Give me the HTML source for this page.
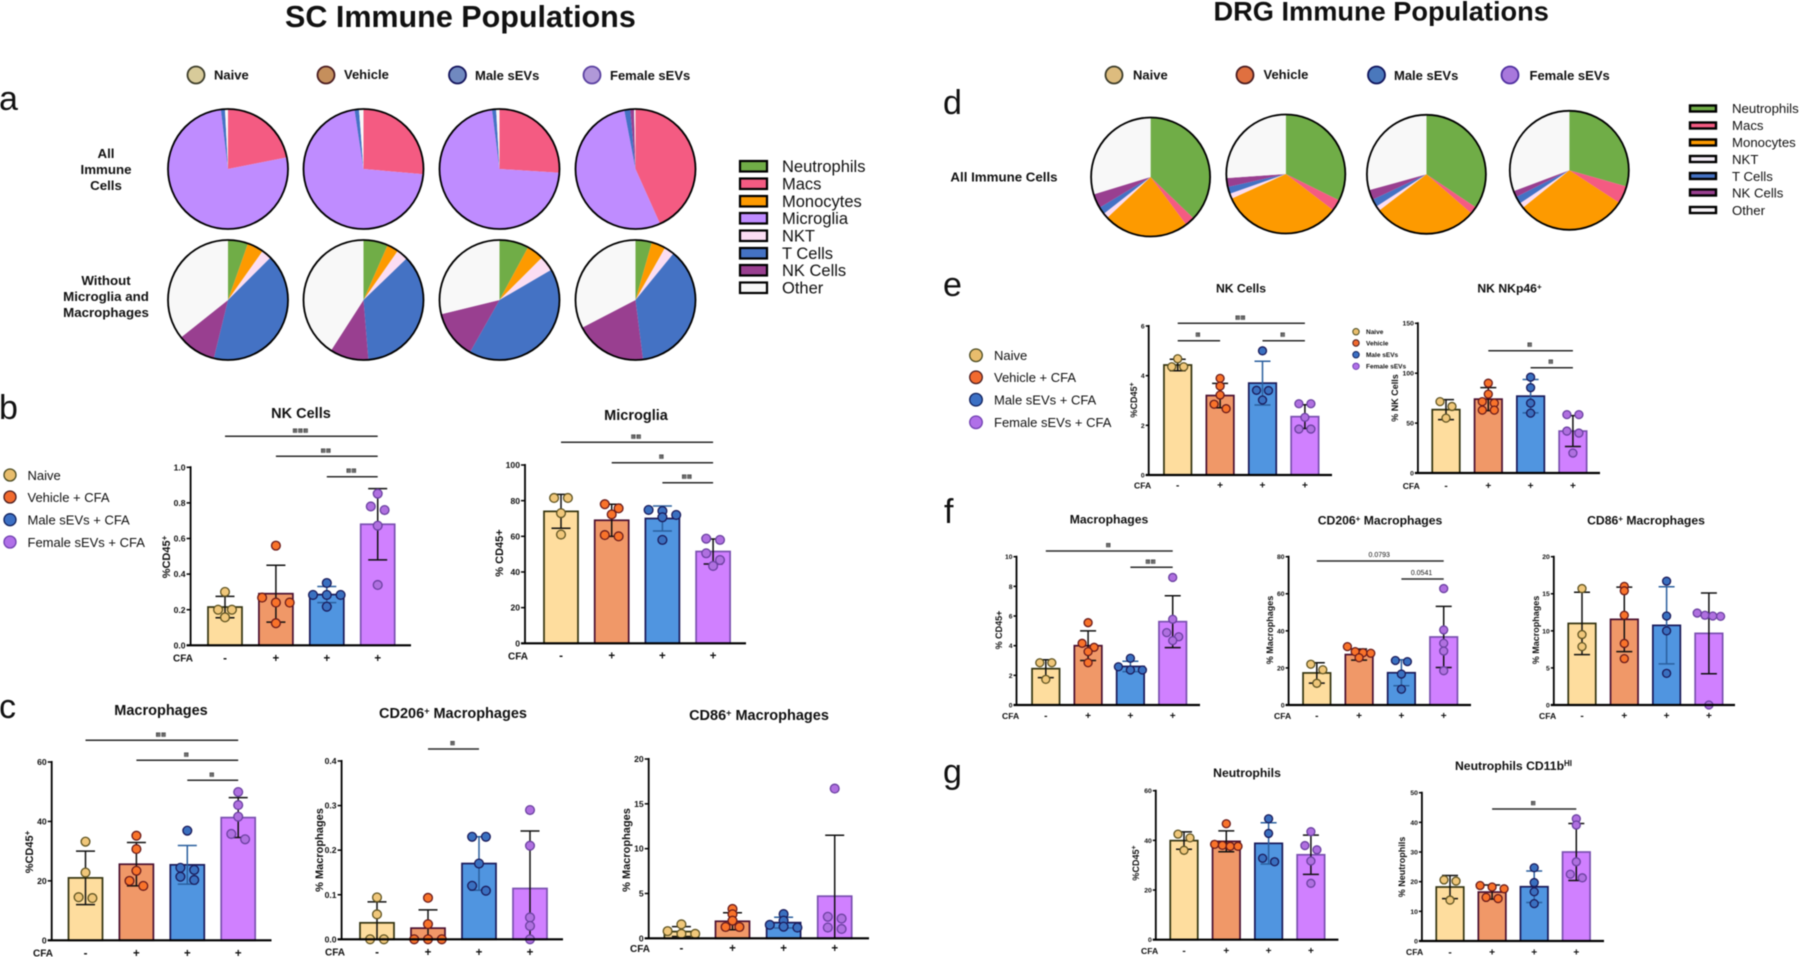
<!DOCTYPE html>
<html lang="en">
<head>
<meta charset="utf-8">
<title>SC and DRG Immune Populations</title>
<style>
html,body{margin:0;padding:0;background:#fff;}
#figure{display:block;width:1800px;height:957px;filter:blur(0.55px);}
text{font-family:"Liberation Sans","DejaVu Sans",sans-serif;fill:#111;}
.b{font-weight:bold;}
.main{font-weight:bold;}
.hdr{font-weight:bold;font-size:13px;}
.letter{font-size:34px;}
.row{font-weight:bold;font-size:13.3px;text-anchor:middle;}
.cl{font-size:16.5px;}
.dl{font-size:13.2px;}
.ll{font-size:13px;}
.tsc{font-weight:bold;font-size:14.5px;text-anchor:middle;}
.tdrg{font-weight:bold;font-size:12.2px;text-anchor:middle;}
.ysc{font-weight:bold;font-size:11px;text-anchor:middle;}
.ydrg{font-weight:bold;font-size:9px;text-anchor:middle;}
</style>
</head>
<body>
<svg id="figure" xmlns="http://www.w3.org/2000/svg" width="1800" height="957" viewBox="0 0 1800 957">
<rect width="1800" height="957" fill="#fff"/>

<text class="main" x="285" y="27" font-size="30.5">SC Immune Populations</text>
<text class="main" x="1213.5" y="20.5" font-size="27.2">DRG Immune Populations</text>

<text class="letter" x="-1" y="110">a</text>
<text class="letter" x="-1" y="419">b</text>
<text class="letter" x="-1" y="718">c</text>
<text class="letter" x="943" y="114">d</text>
<text class="letter" x="943" y="296">e</text>
<text class="letter" x="944" y="523">f</text>
<text class="letter" x="943" y="783">g</text>

<g>
<circle cx="196" cy="75" r="8.5" fill="#d8cb9a" stroke="#3d3d2a" stroke-width="1.8"/>
<text class="hdr" x="214" y="79.5">Naive</text>
<circle cx="326" cy="75" r="8.5" fill="#c58f5c" stroke="#4a1c20" stroke-width="1.8"/>
<text class="hdr" x="344" y="79">Vehicle</text>
<circle cx="457.5" cy="75" r="8.5" fill="#7089c0" stroke="#14145c" stroke-width="1.8"/>
<text class="hdr" x="475" y="80">Male sEVs</text>
<circle cx="592" cy="75" r="8.5" fill="#b098d8" stroke="#5a40a0" stroke-width="1.8"/>
<text class="hdr" x="610" y="80">Female sEVs</text>
</g>

<g>
<circle cx="1114" cy="75" r="8.5" fill="#ddbc7e" stroke="#3d3d2a" stroke-width="1.8"/>
<text class="hdr" x="1133" y="79.5">Naive</text>
<circle cx="1245" cy="75" r="8.5" fill="#e07040" stroke="#4a1c20" stroke-width="1.8"/>
<text class="hdr" x="1263.5" y="79">Vehicle</text>
<circle cx="1376.5" cy="75" r="8.5" fill="#4a78bc" stroke="#10145c" stroke-width="1.8"/>
<text class="hdr" x="1394" y="80">Male sEVs</text>
<circle cx="1510" cy="75" r="8.5" fill="#a878dc" stroke="#5030a0" stroke-width="1.8"/>
<text class="hdr" x="1529.5" y="80">Female sEVs</text>
</g>

<g>
<text class="row" x="106" y="158">All</text>
<text class="row" x="106" y="174">Immune</text>
<text class="row" x="106" y="190">Cells</text>
<text class="row" x="106" y="285">Without</text>
<text class="row" x="106" y="301">Microglia and</text>
<text class="row" x="106" y="317">Macrophages</text>
</g>
<text class="row" x="1004" y="181.5">All Immune Cells</text>

<g id="sc-pies"></g>
<g id="drg-pies"></g>

<g stroke-linejoin="miter">
<rect x="740" y="161" width="27" height="10.5" fill="#70ad47" stroke="#000" stroke-width="2.2"/>
<text class="cl" x="782" y="172">Neutrophils</text>
<rect x="740" y="178.5" width="27" height="10.5" fill="#f45b82" stroke="#000" stroke-width="2.2"/>
<text class="cl" x="782" y="189.5">Macs</text>
<rect x="740" y="196" width="27" height="10.5" fill="#fd9a00" stroke="#000" stroke-width="2.2"/>
<text class="cl" x="782" y="207">Monocytes</text>
<rect x="740" y="213" width="27" height="10.5" fill="#bf8cff" stroke="#000" stroke-width="2.2"/>
<text class="cl" x="782" y="224">Microglia</text>
<rect x="740" y="230.5" width="27" height="10.5" fill="#fbddf3" stroke="#000" stroke-width="2.2"/>
<text class="cl" x="782" y="241.5">NKT</text>
<rect x="740" y="248" width="27" height="10.5" fill="#4472c4" stroke="#000" stroke-width="2.2"/>
<text class="cl" x="782" y="259">T Cells</text>
<rect x="740" y="265" width="27" height="10.5" fill="#993f90" stroke="#000" stroke-width="2.2"/>
<text class="cl" x="782" y="276">NK Cells</text>
<rect x="740" y="282.5" width="27" height="10.5" fill="#f8f8f8" stroke="#000" stroke-width="2.2"/>
<text class="cl" x="782" y="293.5">Other</text>
</g>

<g>
<rect x="1690" y="105.5" width="26" height="6" fill="#70ad47" stroke="#000" stroke-width="2.4"/>
<text class="dl" x="1732" y="113">Neutrophils</text>
<rect x="1690" y="122.5" width="26" height="6" fill="#f45b82" stroke="#000" stroke-width="2.4"/>
<text class="dl" x="1732" y="130">Macs</text>
<rect x="1690" y="139.5" width="26" height="6" fill="#fd9a00" stroke="#000" stroke-width="2.4"/>
<text class="dl" x="1732" y="147">Monocytes</text>
<rect x="1690" y="156" width="26" height="6" fill="#f5eef8" stroke="#000" stroke-width="2.4"/>
<text class="dl" x="1732" y="164">NKT</text>
<rect x="1690" y="173" width="26" height="6" fill="#4472c4" stroke="#000" stroke-width="2.4"/>
<text class="dl" x="1732" y="181">T Cells</text>
<rect x="1690" y="189.5" width="26" height="6" fill="#993f90" stroke="#000" stroke-width="2.4"/>
<text class="dl" x="1732" y="197.5">NK Cells</text>
<rect x="1690" y="207" width="26" height="6" fill="#f9f5f9" stroke="#000" stroke-width="2.4"/>
<text class="dl" x="1732" y="215">Other</text>
</g>

<g>
<circle cx="10" cy="475" r="6" fill="#e8bd6d" stroke="#4a4a20" stroke-width="1.3"/>
<text class="ll" x="27.5" y="480">Naive</text>
<circle cx="10" cy="497" r="6" fill="#f26a2e" stroke="#4a1c20" stroke-width="1.3"/>
<text class="ll" x="27.5" y="502">Vehicle + CFA</text>
<circle cx="10" cy="519.7" r="6" fill="#3c70c4" stroke="#10205c" stroke-width="1.3"/>
<text class="ll" x="27.5" y="524.5">Male sEVs + CFA</text>
<circle cx="10" cy="542" r="6" fill="#b070e8" stroke="#7040b0" stroke-width="1.3"/>
<text class="ll" x="27.5" y="547">Female sEVs + CFA</text>
</g>

<g>
<circle cx="976" cy="355.3" r="6.3" fill="#e8bd6d" stroke="#4a4a20" stroke-width="1.3"/>
<text class="ll" x="994" y="360">Naive</text>
<circle cx="976" cy="377.3" r="6.3" fill="#f26a2e" stroke="#4a1c20" stroke-width="1.3"/>
<text class="ll" x="994" y="382">Vehicle + CFA</text>
<circle cx="976" cy="399.7" r="6.3" fill="#3c70c4" stroke="#10205c" stroke-width="1.3"/>
<text class="ll" x="994" y="404.5">Male sEVs + CFA</text>
<circle cx="976" cy="422.3" r="6.3" fill="#b070e8" stroke="#7040b0" stroke-width="1.3"/>
<text class="ll" x="994" y="427">Female sEVs + CFA</text>
</g>

<g>
<circle cx="1356" cy="331.7" r="3.2" fill="#e8bd6d" stroke="#4a4a20"/>
<text x="1366" y="334" font-size="6.5" class="b">Naive</text>
<circle cx="1356" cy="343" r="3.2" fill="#f26a2e" stroke="#4a1c20"/>
<text x="1366" y="345.3" font-size="6.5" class="b">Vehicle</text>
<circle cx="1356" cy="354.7" r="3.2" fill="#3c70c4" stroke="#10205c"/>
<text x="1366" y="357" font-size="6.5" class="b">Male sEVs</text>
<circle cx="1356" cy="366.3" r="3.2" fill="#b070e8" stroke="#7040b0"/>
<text x="1366" y="368.6" font-size="6.5" class="b">Female sEVs</text>
</g>

<g id="sc-nk">
<text class="tsc" x="301" y="418">NK Cells</text>
<text class="ysc" transform="rotate(-90 170 557)" x="170" y="557">%CD45<tspan dy="-3" font-size="8">+</tspan></text>
</g>
<g id="sc-microglia">
<text class="tsc" x="636" y="420">Microglia</text>
<text class="ysc" transform="rotate(-90 503 553)" x="503" y="553">% CD45+</text>
</g>
<g id="sc-macs">
<text class="tsc" x="161" y="715">Macrophages</text>
<text class="ysc" transform="rotate(-90 33 852)" x="33" y="852">%CD45<tspan dy="-3" font-size="8">+</tspan></text>
</g>
<g id="sc-cd206">
<text class="tsc" x="453" y="718">CD206<tspan dy="-4" font-size="9">+</tspan><tspan dy="4"> Macrophages</tspan></text>
<text class="ysc" transform="rotate(-90 323 850)" x="323" y="850">% Macrophages</text>
</g>
<g id="sc-cd86">
<text class="tsc" x="759" y="720">CD86<tspan dy="-4" font-size="9">+</tspan><tspan dy="4"> Macrophages</tspan></text>
<text class="ysc" transform="rotate(-90 630 850)" x="630" y="850">% Macrophages</text>
</g>

<g id="drg-nk">
<text class="tdrg" x="1241" y="292.5">NK Cells</text>
<text class="ydrg" transform="rotate(-90 1137 400)" x="1137" y="400">%CD45<tspan dy="-3" font-size="7">+</tspan></text>
</g>
<g id="drg-nkp46">
<text class="tdrg" x="1509.5" y="292.5">NK NKp46<tspan dy="-3" font-size="8">+</tspan></text>
<text class="ydrg" transform="rotate(-90 1398 398)" x="1398" y="398">% NK Cells</text>
</g>
<g id="drg-macs">
<text class="tdrg" x="1109" y="523.5">Macrophages</text>
<text class="ydrg" transform="rotate(-90 1002 630)" x="1002" y="630">% CD45+</text>
</g>
<g id="drg-cd206">
<text class="tdrg" x="1380" y="524.5">CD206<tspan dy="-3" font-size="8">+</tspan><tspan dy="3"> Macrophages</tspan></text>
<text class="ydrg" transform="rotate(-90 1273 630)" x="1273" y="630">% Macrophages</text>
</g>
<g id="drg-cd86">
<text class="tdrg" x="1646" y="524.5">CD86<tspan dy="-3" font-size="8">+</tspan><tspan dy="3"> Macrophages</tspan></text>
<text class="ydrg" transform="rotate(-90 1539 630)" x="1539" y="630">% Macrophages</text>
</g>
<g id="drg-neut">
<text class="tdrg" x="1247" y="777">Neutrophils</text>
<text class="ydrg" transform="rotate(-90 1139 863)" x="1139" y="863">%CD45<tspan dy="-3" font-size="7">+</tspan></text>
</g>
<g id="drg-cd11b">
<text class="tdrg" x="1513.5" y="770">Neutrophils CD11b<tspan dy="-4" font-size="8">HI</tspan></text>
<text class="ydrg" transform="rotate(-90 1405 867)" x="1405" y="867">% Neutrophils</text>
</g>
</svg>

<script>
// ---------- shared categories ----------
const groupNames = ['naive', 'vehicle', 'male-sevs', 'female-sevs'];
const cfaLabels = ['-', '+', '+', '+'];
const cellTypes = ['neutrophils', 'macs', 'monocytes', 'microglia', 'nkt', 't-cells', 'nk-cells', 'other'];

// ---------- pie values, % of cells, in cellTypes order ----------
const scAllNaive = [0, 21.9, 0, 76.2, 0, 1.1, 0, 0.8];
const scAllVehicle = [0, 26.4, 0, 71.2, 0, 1.2, 0, 1.2];
const scAllMale = [0, 26, 0, 72, 0, 1.1, 0, 0.9];
const scAllFemale = [0, 43.3, 0, 53.7, 0, 1.6, 1, 0.4];
const scWithoutNaive = [5.4, 0, 4.4, 0, 2.7, 41.3, 10.5, 35.7];
const scWithoutVehicle = [6.6, 0, 3.1, 0, 3.1, 35.9, 10.4, 40.9];
const scWithoutMale = [7.9, 0, 4.6, 0, 4.1, 41.6, 13, 28.8];
const scWithoutFemale = [4.4, 0, 3.8, 0, 2.7, 37.1, 19.4, 32.6];
const drgAllNaive = [37.2, 2.6, 23.2, 0, 1.4, 2, 3.9, 29.7];
const drgAllVehicle = [32.3, 3.1, 32.8, 0, 1.4, 1.9, 2.4, 26.1];
const drgAllMale = [34.4, 2, 28.2, 0, 1.3, 2.1, 2.7, 29.3];
const drgAllFemale = [29.4, 4.8, 30, 0, 1.4, 2, 1.7, 30.7];

// ---------- b: SC NK cells ----------
const scNkTicks = [0, 0.2, 0.4, 0.6, 0.8, 1];
const scNkTickLabels = ['0.0', '0.2', '0.4', '0.6', '0.8', '1.0'];
const scNkMeans = [0.215, 0.29, 0.285, 0.68];
const scNkSds = [0.06, 0.16, 0.045, 0.2];
const scNkPoints = [[0.3, 0.2, 0.2, 0.157], [0.56, 0.268, 0.24, 0.24, 0.124], [0.35, 0.283, 0.283, 0.283, 0.217], [0.852, 0.78, 0.76, 0.672, 0.339]];

// ---------- b: SC microglia ----------
const scMicrogliaTicks = [0, 20, 40, 60, 80, 100];
const scMicrogliaTickLabels = ['0', '20', '40', '60', '80', '100'];
const scMicrogliaMeans = [74, 69, 70, 51.5];
const scMicrogliaSds = [9.5, 9, 7, 7];
const scMicrogliaPoints = [[81.5, 81.5, 73, 61], [78, 75.7, 72.3, 60.7, 60], [74.8, 74.2, 72, 70.7, 58], [58.7, 58, 50.5, 46.7, 43.4]];

// ---------- c: SC macrophages ----------
const scMacsTicks = [0, 20, 40, 60];
const scMacsTickLabels = ['0', '20', '40', '60'];
const scMacsMeans = [21, 25.6, 25.4, 41.3];
const scMacsSds = [9, 7.3, 6.5, 6.7];
const scMacsPoints = [[33.2, 22.8, 14.5, 14.2], [35.2, 30.7, 23.4, 20, 18.3], [36.9, 24.4, 23.7, 21.4, 20.3], [49.9, 45.5, 41.6, 35.8, 34]];

// ---------- c: SC CD206 macrophages ----------
const scCd206Ticks = [0, 0.1, 0.2, 0.3, 0.4];
const scCd206TickLabels = ['0.0', '0.1', '0.2', '0.3', '0.4'];
const scCd206Means = [0.037, 0.025, 0.17, 0.114];
const scCd206Sds = [0.047, 0.041, 0.06, 0.129];
const scCd206Points = [[0.094, 0.056, 0, 0], [0.093, 0.034, 0, 0, 0], [0.23, 0.23, 0.17, 0.12, 0.109], [0.29, 0.21, 0.049, 0.03, 0]];

// ---------- c: SC CD86 macrophages ----------
const scCd86Ticks = [0, 5, 10, 15, 20];
const scCd86TickLabels = ['0', '5', '10', '15', '20'];
const scCd86Means = [0.75, 1.9, 1.75, 4.7];
const scCd86Sds = [0.55, 0.95, 0.6, 6.8];
const scCd86Points = [[1.56, 0.8, 0.5, 0.5], [3.27, 2.68, 1.97, 1.26, 1.26], [2.7, 1.97, 1.5, 1.3, 1.2], [16.7, 2.4, 2.2, 1.2, 1.04]];

// ---------- e: DRG NK cells ----------
const drgNkTicks = [0, 2, 4, 6];
const drgNkTickLabels = ['0', '2', '4', '6'];
const drgNkMeans = [4.43, 3.2, 3.7, 2.35];
const drgNkSds = [0.23, 0.49, 0.88, 0.48];
const drgNkPoints = [[4.68, 4.36, 4.36], [3.89, 3.58, 3.22, 2.85, 2.67], [5, 3.41, 3.4, 3.02], [2.87, 2.87, 2.32, 1.85, 1.85]];

// ---------- e: DRG NK NKp46 ----------
const drgNkp46Ticks = [0, 50, 100, 150];
const drgNkp46TickLabels = ['0', '50', '100', '150'];
const drgNkp46Means = [63.5, 74, 77, 42];
const drgNkp46Sds = [10, 11.5, 16.7, 15.5];
const drgNkp46Points = [[71.5, 66.7, 55], [90, 79, 71.5, 70, 63, 63], [96, 85.5, 70, 60], [58.5, 58.5, 42, 40, 20]];

// ---------- f: DRG macrophages ----------
const drgMacsTicks = [0, 2, 4, 6, 8, 10];
const drgMacsTickLabels = ['0', '2', '4', '6', '8', '10'];
const drgMacsMeans = [2.45, 4, 2.6, 5.62];
const drgMacsSds = [0.6, 1, 0.35, 1.75];
const drgMacsPoints = [[2.85, 2.85, 1.73], [5.55, 4.16, 3.89, 3.6, 2.85], [3.15, 2.58, 2.36, 2.36], [8.6, 5.78, 4.88, 4.6, 4.34]];

// ---------- f: DRG CD206 macrophages ----------
const drgCd206Ticks = [0, 20, 40, 60, 80];
const drgCd206TickLabels = ['0', '20', '40', '60', '80'];
const drgCd206Means = [17.3, 27.2, 17.4, 36.7];
const drgCd206Sds = [5.5, 3, 7, 16.5];
const drgCd206Points = [[22, 19, 11.7], [31.5, 28.8, 28.2, 27.9, 25.5], [24, 23.4, 16.7, 8.5], [62.8, 40.5, 33.3, 29.1, 18.5]];

// ---------- f: DRG CD86 macrophages ----------
const drgCd86Ticks = [0, 5, 10, 15, 20];
const drgCd86TickLabels = ['0', '5', '10', '15', '20'];
const drgCd86Means = [11, 11.55, 10.74, 9.66];
const drgCd86Sds = [4.2, 4.35, 5.2, 5.45];
const drgCd86Points = [[15.7, 9.5, 7.87], [16, 15.4, 12.1, 8.3, 6.25], [16.7, 12, 10, 4.27], [12.4, 12.1, 12, 11.95, 0]];

// ---------- g: DRG neutrophils ----------
const drgNeutTicks = [0, 20, 40, 60];
const drgNeutTickLabels = ['0', '20', '40', '60'];
const drgNeutMeans = [39.9, 39.6, 38.8, 34.2];
const drgNeutSds = [3.5, 4.2, 8.3, 7.9];
const drgNeutPoints = [[42.5, 41, 36], [46.7, 38.4, 38, 37.6, 37.6], [48.7, 42.8, 32.8, 31.4], [43.5, 37.9, 36.2, 31.7, 22.7]];

// ---------- g: DRG neutrophils CD11b HI ----------
const drgCd11bTicks = [0, 10, 20, 30, 40, 50];
const drgCd11bTickLabels = ['0', '10', '20', '30', '40', '50'];
const drgCd11bMeans = [18.2, 16.5, 18.3, 30];
const drgCd11bSds = [3.9, 2.4, 5.3, 9.6];
const drgCd11bPoints = [[20.6, 20.2, 13.8], [18.7, 18.2, 17.6, 14.7, 14.3], [24.7, 19.7, 16.6, 12.6], [41.2, 39.1, 26.7, 22.5, 21.3]];

// ---------- styling ----------
const NS = 'http://www.w3.org/2000/svg';
const sliceColors = {neutrophils: '#70ad47', macs: '#f45b82', monocytes: '#fd9a00', microglia: '#bf8cff', nkt: '#fbddf3', 't-cells': '#4472c4', 'nk-cells': '#993f90', other: '#f8f8f8'};
const barFill = ['#fedd9e', '#f09868', '#5095e0', '#d080ff'];
const barStroke = ['#33330f', '#4a1030', '#1a1a5a', '#7a50b0'];
const dotFill = ['#f0c77a', '#f9732a', '#3a70c0', '#b070e0'];
const dotStroke = ['#5f5320', '#6a1a1a', '#1a1a5a', '#6a40a0'];
const errStroke = ['#111', '#111', '#2a5f9e', '#111'];

function make(parent, tag, attrs, text) {
  const el = document.createElementNS(NS, tag);
  for (const k in attrs) el.setAttribute(k, attrs[k]);
  if (text !== undefined) el.textContent = text;
  parent.appendChild(el);
  return el;
}

function drawPie(parentId, values, cx, cy, r, who) {
  const parent = document.getElementById(parentId);
  const total = values.reduce((a, b) => a + b, 0);
  let cum = 0;
  values.forEach((v, i) => {
    if (v <= 0) return;
    const a0 = cum / total * 2 * Math.PI;
    cum += v;
    const a1 = cum / total * 2 * Math.PI;
    const d = 'M' + cx + ' ' + cy + 'L' + (cx + r * Math.sin(a0)) + ' ' + (cy - r * Math.cos(a0)) +
      'A' + r + ' ' + r + ' 0 ' + (a1 - a0 > Math.PI ? 1 : 0) + ' 1 ' + (cx + r * Math.sin(a1)) + ' ' + (cy - r * Math.cos(a1)) + 'Z';
    const slice = make(parent, 'path', {d: d, fill: sliceColors[cellTypes[i]]});
    
    
  });
  const rim = make(parent, 'circle', {cx: cx, cy: cy, r: r, fill: 'none', stroke: '#000', 'stroke-width': 1.8});
  
  
}

// Spread points that sit at a similar height sideways, as a column scatter does.
function swarmOffsets(ys, spacing, bin) {
  const order = ys.map((y, i) => [y, i]).sort((a, b) => a[0] - b[0]);
  const out = [];
  let k = 0;
  while (k < order.length) {
    let j = k;
    while (j + 1 < order.length && order[j + 1][0] - order[k][0] < bin) j++;
    const m = j - k + 1;
    const gap = m >= 4 ? spacing * 0.65 : spacing;
    for (let t = k; t <= j; t++) out[order[t][1]] = (t - k - (m - 1) / 2) * gap;
    k = j + 1;
  }
  return out;
}

function drawBars(id, d, L) {
  const g = document.getElementById(id);
  const yMax = d.ticks[d.ticks.length - 1];
  const yScale = v => L.y0 - v / yMax * (L.y0 - L.yTop);
  const xScale = i => L.first + i * L.step;

  d.means.forEach((m, i) => {
    const bar = make(g, 'rect', {x: xScale(i) - L.barW / 2, y: yScale(m), width: L.barW, height: L.y0 - yScale(m), fill: barFill[i], stroke: barStroke[i], 'stroke-width': 1.7});
    
    
  });

  d.means.forEach((m, i) => {
    const x = xScale(i), hi = yScale(m + d.sds[i]);
    const below = m - d.sds[i] < 0;
    const lo = yScale(Math.max(0, m - d.sds[i]));
    let path = 'M' + x + ' ' + lo + 'V' + hi + 'M' + (x - L.cap / 2) + ' ' + hi + 'H' + (x + L.cap / 2);
    if (!below) path += 'M' + (x - L.cap / 2) + ' ' + lo + 'H' + (x + L.cap / 2);
    const err = make(g, 'path', {d: path, fill: 'none', stroke: errStroke[i], 'stroke-width': 1.5});
    
    
  });

  d.points.forEach((pts, i) => {
    const ys = pts.map(yScale);
    const offs = swarmOffsets(ys, L.spread, L.bin);
    pts.forEach((p, j) => {
      const dot = make(g, 'circle', {cx: xScale(i) + offs[j], cy: ys[j], r: L.dotR, fill: dotFill[i], stroke: dotStroke[i], 'stroke-width': 1.3});
      
      
    });
  });

  const yAxis = make(g, 'line', {x1: L.axisX, x2: L.axisX, y1: L.yTop - 1, y2: L.y0, stroke: '#000', 'stroke-width': 1.8});
  
  
  const xAxis = make(g, 'line', {x1: L.axisX - L.tickLen, x2: L.xEnd, y1: L.y0, y2: L.y0, stroke: '#000', 'stroke-width': 2.2});
  
  

  d.ticks.forEach((t, i) => {
    const y = yScale(t);
    const tick = make(g, 'line', {x1: L.axisX - L.tickLen, x2: L.axisX, y1: y, y2: y, stroke: '#000', 'stroke-width': 1.5});
    
    
    const lab = make(g, 'text', {x: L.axisX - L.tickLen - 1, y: y + L.tickFont * 0.36, 'text-anchor': 'end', 'font-size': L.tickFont, 'font-weight': 'bold'}, d.tickLabels[i]);
    
    
  });

  const cfa = make(g, 'text', {x: L.cfaX, y: L.cfaY + L.cfaFont * 0.36, 'font-size': L.cfaFont, 'font-weight': 'bold'}, 'CFA');
  
  
  cfaLabels.forEach((c, i) => {
    const lab = make(g, 'text', {x: xScale(i), y: L.cfaY + L.cfaFont * 0.38, 'text-anchor': 'middle', 'font-size': L.cfaFont + 1.5, 'font-weight': 'bold'}, c);
    
    
  });

  (L.sigs || []).forEach(s => {
    const line = make(g, 'line', {x1: xScale(s.from), x2: xScale(s.to), y1: s.y, y2: s.y, stroke: '#2a2a2a', 'stroke-width': 1.5});
    
    
    const numeric = /\d/.test(s.label);
    const lab = make(g, 'text', {x: (xScale(s.from) + xScale(s.to)) / 2 - 1, y: s.y - (numeric ? 4 : 4.5), 'text-anchor': 'middle', 'font-size': numeric ? 7 : 5.6}, s.label);
    
    
  });
}

// ---------- draw pies ----------
drawPie('sc-pies', scAllNaive, 228, 169, 60, 'sc-all-naive');
drawPie('sc-pies', scAllVehicle, 363.5, 169, 60, 'sc-all-vehicle');
drawPie('sc-pies', scAllMale, 499.5, 169, 60, 'sc-all-male');
drawPie('sc-pies', scAllFemale, 635.5, 169, 60, 'sc-all-female');
drawPie('sc-pies', scWithoutNaive, 228, 300, 60, 'sc-without-naive');
drawPie('sc-pies', scWithoutVehicle, 363.5, 300, 60, 'sc-without-vehicle');
drawPie('sc-pies', scWithoutMale, 499.5, 300, 60, 'sc-without-male');
drawPie('sc-pies', scWithoutFemale, 635.5, 300, 60, 'sc-without-female');
drawPie('drg-pies', drgAllNaive, 1150.6, 177, 59.5, 'drg-naive');
drawPie('drg-pies', drgAllVehicle, 1285.8, 174, 59.5, 'drg-vehicle');
drawPie('drg-pies', drgAllMale, 1426.4, 174.3, 59.5, 'drg-male');
drawPie('drg-pies', drgAllFemale, 1569.3, 170.3, 59.5, 'drg-female');

// ---------- draw bar charts ----------
const scStyle = {barW: 34, cap: 19, tickLen: 4, tickFont: 8.6, cfaFont: 10, dotR: 4.4, spread: 13.8, bin: 7};
const drgStyle = {barW: 27.5, cap: 16, tickLen: 3, tickFont: 6.8, cfaFont: 8.6, dotR: 4, spread: 12, bin: 7};

drawBars('sc-nk', {ticks: scNkTicks, tickLabels: scNkTickLabels, means: scNkMeans, sds: scNkSds, points: scNkPoints},
  Object.assign({}, scStyle, {axisX: 190.6, y0: 645.3, yTop: 467.3, first: 225, step: 50.9, xEnd: 411, cfaX: 173, cfaY: 658,
    sigs: [{from: 0, to: 3, y: 436.3, label: '▩▩▩'}, {from: 1, to: 3, y: 456.3, label: '▩▩'}, {from: 2, to: 3, y: 476.7, label: '▩▩'}]}));
drawBars('sc-microglia', {ticks: scMicrogliaTicks, tickLabels: scMicrogliaTickLabels, means: scMicrogliaMeans, sds: scMicrogliaSds, points: scMicrogliaPoints},
  Object.assign({}, scStyle, {axisX: 525, y0: 643.3, yTop: 465, first: 561, step: 50.7, xEnd: 746, cfaX: 508, cfaY: 655.7,
    sigs: [{from: 0, to: 3, y: 442.3, label: '▩▩'}, {from: 1, to: 3, y: 462.7, label: '▩'}, {from: 2, to: 3, y: 482.7, label: '▩▩'}]}));
drawBars('sc-macs', {ticks: scMacsTicks, tickLabels: scMacsTickLabels, means: scMacsMeans, sds: scMacsSds, points: scMacsPoints},
  Object.assign({}, scStyle, {axisX: 51.7, y0: 940.3, yTop: 762, first: 85.5, step: 50.9, xEnd: 271.5, cfaX: 33, cfaY: 953,
    sigs: [{from: 0, to: 3, y: 740.3, label: '▩▩'}, {from: 1, to: 3, y: 760.3, label: '▩'}, {from: 2, to: 3, y: 780.3, label: '▩'}]}));
drawBars('sc-cd206', {ticks: scCd206Ticks, tickLabels: scCd206TickLabels, means: scCd206Means, sds: scCd206Sds, points: scCd206Points},
  Object.assign({}, scStyle, {axisX: 341.6, y0: 939.3, yTop: 761, first: 377, step: 51, xEnd: 563, cfaX: 325, cfaY: 952,
    sigs: [{from: 1, to: 2, y: 749, label: '▩'}]}));
drawBars('sc-cd86', {ticks: scCd86Ticks, tickLabels: scCd86TickLabels, means: scCd86Means, sds: scCd86Sds, points: scCd86Points},
  Object.assign({}, scStyle, {axisX: 648.7, y0: 938.3, yTop: 759, first: 681.4, step: 51.1, xEnd: 869, cfaX: 630, cfaY: 948.3, bin: 4}));

drawBars('drg-nk', {ticks: drgNkTicks, tickLabels: drgNkTickLabels, means: drgNkMeans, sds: drgNkSds, points: drgNkPoints},
  Object.assign({}, drgStyle, {axisX: 1148.7, y0: 475, yTop: 326, first: 1177.7, step: 42.4, xEnd: 1332, cfaX: 1134, cfaY: 485.3,
    sigs: [{from: 0, to: 3, y: 323.3, label: '▩▩'}, {from: 0, to: 1, y: 340.7, label: '▩'}, {from: 2, to: 3, y: 340.7, label: '▩'}]}));
drawBars('drg-nkp46', {ticks: drgNkp46Ticks, tickLabels: drgNkp46TickLabels, means: drgNkp46Means, sds: drgNkp46Sds, points: drgNkp46Points},
  Object.assign({}, drgStyle, {axisX: 1417.9, y0: 473, yTop: 323.3, first: 1446, step: 42.3, xEnd: 1600, cfaX: 1402.7, cfaY: 485.7,
    sigs: [{from: 1, to: 3, y: 350.7, label: '▩'}, {from: 2, to: 3, y: 367.7, label: '▩'}]}));
drawBars('drg-macs', {ticks: drgMacsTicks, tickLabels: drgMacsTickLabels, means: drgMacsMeans, sds: drgMacsSds, points: drgMacsPoints},
  Object.assign({}, drgStyle, {axisX: 1016.5, y0: 705, yTop: 556.7, first: 1045.8, step: 42.3, xEnd: 1200, cfaX: 1002, cfaY: 715.7,
    sigs: [{from: 0, to: 3, y: 551, label: '▩'}, {from: 2, to: 3, y: 567.3, label: '▩▩'}]}));
drawBars('drg-cd206', {ticks: drgCd206Ticks, tickLabels: drgCd206TickLabels, means: drgCd206Means, sds: drgCd206Sds, points: drgCd206Points},
  Object.assign({}, drgStyle, {axisX: 1288.6, y0: 705, yTop: 556.7, first: 1316.8, step: 42.3, xEnd: 1471, cfaX: 1274, cfaY: 715.7,
    sigs: [{from: 0, to: 3, y: 561, label: '0.0793'}, {from: 2, to: 3, y: 579, label: '0.0541'}]}));
drawBars('drg-cd86', {ticks: drgCd86Ticks, tickLabels: drgCd86TickLabels, means: drgCd86Means, sds: drgCd86Sds, points: drgCd86Points},
  Object.assign({}, drgStyle, {axisX: 1553.8, y0: 705, yTop: 556.7, first: 1582, step: 42.3, xEnd: 1735, cfaX: 1539, cfaY: 715.7, bin: 4.3}));
drawBars('drg-neut', {ticks: drgNeutTicks, tickLabels: drgNeutTickLabels, means: drgNeutMeans, sds: drgNeutSds, points: drgNeutPoints},
  Object.assign({}, drgStyle, {axisX: 1155.8, y0: 939.7, yTop: 790.7, first: 1184, step: 42.3, xEnd: 1338.4, cfaX: 1141, cfaY: 950.7}));
drawBars('drg-cd11b', {ticks: drgCd11bTicks, tickLabels: drgCd11bTickLabels, means: drgCd11bMeans, sds: drgCd11bSds, points: drgCd11bPoints},
  Object.assign({}, drgStyle, {axisX: 1421.9, y0: 941, yTop: 792.7, first: 1450, step: 42.1, xEnd: 1604, cfaX: 1406, cfaY: 952, bin: 6,
    sigs: [{from: 1, to: 3, y: 809, label: '▩'}]}));
</script>
</body>
</html>
